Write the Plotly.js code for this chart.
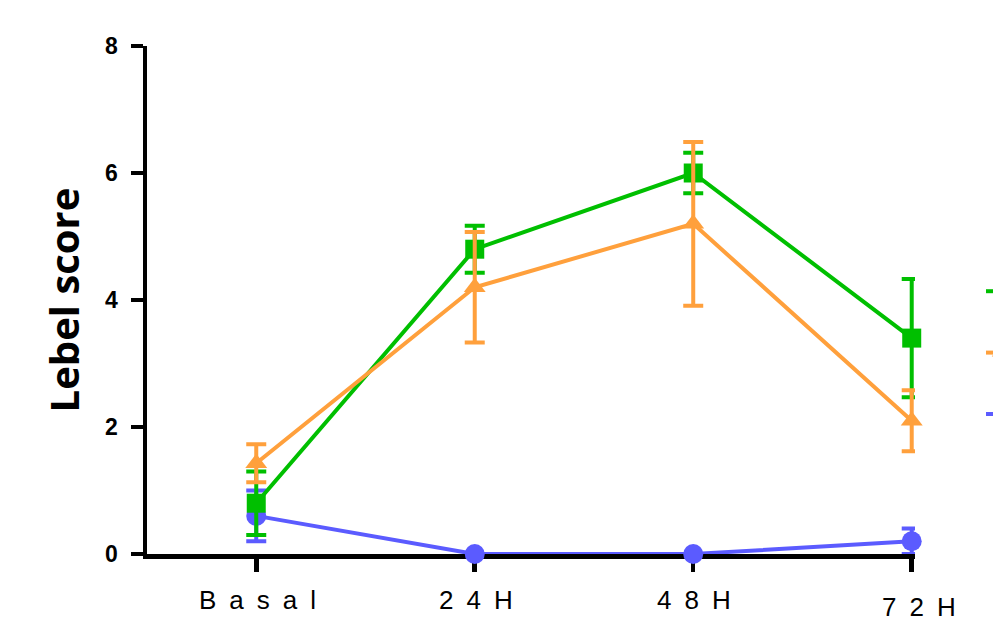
<!DOCTYPE html>
<html>
<head>
<meta charset="utf-8">
<script src="https://cdn.plot.ly/plotly-3.0.1.min.js"></script>
<style>html,body{margin:0;padding:0;background:#fff;}#chart{width:993px;height:632px;}</style>
</head>
<body>
<div id="chart"></div>
<script>
// ---- data ----
const categories = ["Basal", "24H", "48H", "72H"];
const tickLabels = ["B\u2002a\u2002s\u2002a\u2002l", "2\u20024\u2002H", "4\u20028\u2002H", "7\u20022\u2002H"];
const seriesNames = [" ", " ", " "];
const greenValues = [0.8, 4.8, 6.0, 3.4];
const greenErrors = [0.5, 0.37, 0.32, 0.93];
const orangeValues = [1.43, 4.2, 5.2, 2.1];
const orangeErrors = [0.3, 0.87, 1.29, 0.48];
const blueValues = [0.6, 0.0, 0.0, 0.2];
const blueErrors = [0.4, 0.0, 0.0, 0.2];
const yTicks = [0, 2, 4, 6, 8];

const GREEN = "#00BF00", ORANGE = "#FFA03C", BLUE = "#5B5BFF";

function series(name, y, err, color, symbol, size, rank, group) {
  return {
    type: "scatter", mode: "lines+markers", name: name,
    x: categories, y: y,
    line: {color: color, width: 4},
    marker: {color: color, symbol: symbol, size: size},
    error_y: {type: "data", array: err, visible: true, color: color, thickness: 4, width: 10},
    cliponaxis: false,
    legendrank: rank, legendgroup: group
  };
}

const traces = [
  series(seriesNames[2], blueValues, blueErrors, BLUE, "circle", 20, 3, "c"),
  series(seriesNames[0], greenValues, greenErrors, GREEN, "square", 19, 1, "a"),
  series(seriesNames[1], orangeValues, orangeErrors, ORANGE, "triangle-up", 19, 2, "b")
];

const annotations = categories.map((c, i) => ({
  xref: "x", yref: "paper", x: c, y: 0,
  xanchor: "center", yanchor: "top",
  yshift: i === 3 ? -36 : -29, xshift: i === 3 ? 7 : 1,
  text: tickLabels[i], showarrow: false,
  font: {family: "Liberation Sans Narrow, Liberation Sans, Arial, sans-serif", size: 26, color: "#000"}
}));

const layout = {
  width: 993, height: 632,
  font: {family: "Liberation Sans, Arial, sans-serif", size: 19, color: "#000"},
  margin: {l: 147, r: 78, t: 46, b: 78, autoexpand: false},
  paper_bgcolor: "#fff", plot_bgcolor: "#fff",
  showlegend: true,
  legend: {
    xref: "container", yref: "container",
    x: 981 / 993, xanchor: "left",
    y: 1 - 273 / 632, yanchor: "top",
    tracegroupgap: 35, font: {size: 18},
    bgcolor: "rgba(0,0,0,0)", borderwidth: 0
  },
  xaxis: {
    type: "category", range: [-0.5, 3.015],
    showline: true, linewidth: 4.5, linecolor: "#000",
    ticks: "outside", ticklen: 13, tickwidth: 4.5, tickcolor: "#000",
    showticklabels: false, showgrid: false, zeroline: false,
    layer: "below traces", fixedrange: true
  },
  yaxis: {
    range: [0, 8], tickmode: "array", tickvals: yTicks, ticktext: yTicks.map(v => "<b>" + v + "</b>"),
    showline: true, linewidth: 4.5, linecolor: "#000",
    ticks: "outside", ticklen: 12, tickwidth: 4.5, tickcolor: "#000",
    showgrid: false, zeroline: false, layer: "below traces",
    ticklabelstandoff: 8,
    tickfont: {size: 23, color: "#000"},
    title: {text: "<b>Lebel score</b>", standoff: 14, font: {family: "Open Sans, sans-serif", size: 40, color: "#000"}},
    fixedrange: true
  },
  annotations: annotations
};

Plotly.newPlot("chart", traces, layout, {displayModeBar: false, staticPlot: true});
</script>
</body>
</html>
